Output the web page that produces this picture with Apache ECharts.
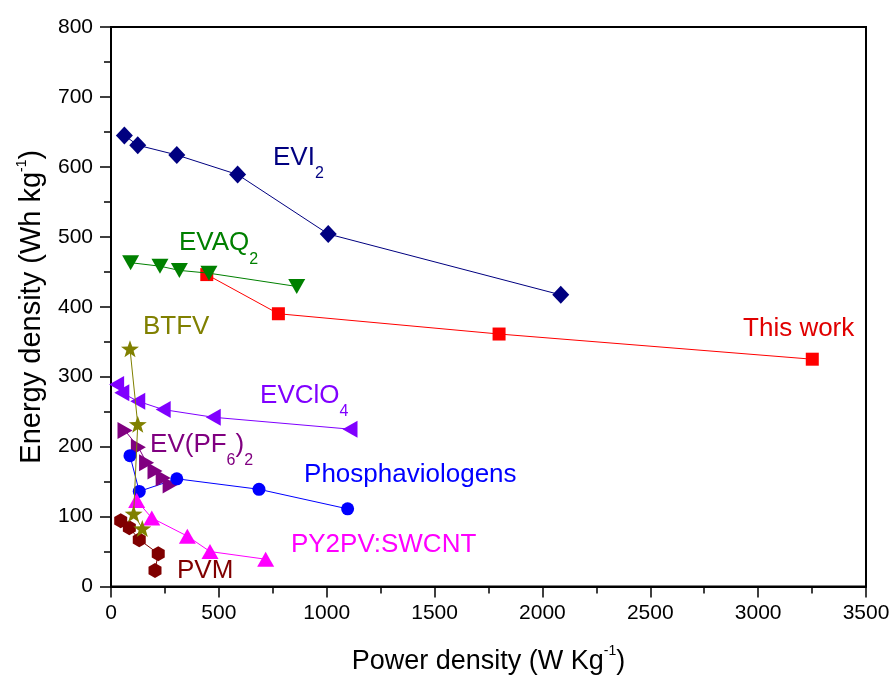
<!DOCTYPE html>
<html>
<head>
<meta charset="utf-8">
<script src="https://cdn.jsdelivr.net/npm/echarts@6/dist/echarts.min.js"></script>
<style>
  html, body { margin: 0; padding: 0; background: #ffffff; }
  #chart { width: 894px; height: 680px; }
</style>
</head>
<body>
<div id="chart"></div>
<script>
// Energy density vs power density for viologen-based electrodes (Ragone-type plot)

// Power density, W kg^-1
const evi2Power    = [62, 124, 305, 587, 1007, 2085];
const evaq2Power   = [91, 227, 317, 454, 861];
const thisPower    = [444, 776, 1799, 3251];
const btfvPower    = [88, 124, 105, 145];
const evclo4Power  = [26, 50, 124, 242, 474, 1108];
const evpf6Power   = [65, 127, 165, 204, 242, 274];
const phosPower    = [88, 131, 305, 686, 1097];
const py2pvPower   = [119, 189, 354, 459, 717];
const pvmPower     = [45, 85, 131, 219, 204];

// Energy density, Wh kg^-1
const evi2Energy   = [645, 631, 617, 589, 504, 417];
const evaq2Energy  = [463, 458, 452, 448, 429];
const thisEnergy   = [446, 390, 361, 325];
const btfvEnergy   = [340, 232, 104, 83];
const evclo4Energy = [289, 277, 265, 253, 242, 225];
const evpf6Energy  = [223, 199, 177, 165, 155, 145];
const phosEnergy   = [187, 136, 154, 139, 111];
const py2pvEnergy  = [123, 98, 72, 50, 39];
const pvmEnergy    = [94, 84, 67, 47, 23];

// Axis ticks
const powerTicks  = [0, 500, 1000, 1500, 2000, 2500, 3000, 3500];
const energyTicks = [0, 100, 200, 300, 400, 500, 600, 700, 800];

const FONT = 'Arial, "Liberation Sans", Helvetica, sans-serif';

const STAR = 'path://M0,-10 L2.35,-3.24 L9.51,-3.09 L3.80,1.24 L5.88,8.09 L0,4 L-5.88,8.09 L-3.80,1.24 L-9.51,-3.09 L-2.35,-3.24 Z';
const HEX  = 'path://M0,-10 L8.66,-5 L8.66,5 L0,10 L-8.66,5 L-8.66,-5 Z';

function pairs(xs, ys) {
  return xs.map((x, i) => [x, ys[i]]);
}

// One connected line + markers, with its name written next to it
function makeSeries(name, xs, ys, opt) {
  const tc = opt.labelColor || opt.color;
  return {
    name: name,
    type: 'line',
    data: pairs(xs, ys),
    symbol: opt.symbol,
    symbolSize: opt.size,
    symbolRotate: opt.rotate || 0,
    symbolKeepAspect: true,
    showSymbol: true,
    lineStyle: { color: opt.color, width: 1 },
    itemStyle: { color: opt.color, borderWidth: 0 },
    emphasis: { disabled: true },
    z: opt.z || 2,
    markPoint: {
      silent: true,
      symbol: 'circle',
      symbolSize: 0,
      itemStyle: { color: 'rgba(0,0,0,0)' },
      label: {
        show: true,
        position: [0, 0],
        align: 'left',
        verticalAlign: 'middle',
        color: tc,
        formatter: opt.text,
        rich: {
          m: { fontFamily: FONT, fontSize: 26, lineHeight: 48, color: tc },
          s: { fontFamily: FONT, fontSize: 16, lineHeight: 16, verticalAlign: 'bottom', color: tc }
        }
      },
      data: [{ coord: opt.at }]
    }
  };
}

const chart = echarts.init(document.getElementById('chart'), null, { renderer: 'canvas' });

const axisCommon = {
  axisLine: { show: true, onZero: false, lineStyle: { color: '#000', width: 2 } },
  axisTick: { show: true, inside: false, length: 11, lineStyle: { color: '#000', width: 1.5 } },
  minorTick: { show: true, splitNumber: 2, length: 7, lineStyle: { color: '#000', width: 1.5 } },
  splitLine: { show: false },
  minorSplitLine: { show: false }
};

chart.setOption({
  animation: false,
  backgroundColor: '#ffffff',
  grid: {
    left: 111, right: 28, top: 27, bottom: 93,
    show: true, borderColor: '#000', borderWidth: 2, backgroundColor: 'transparent'
  },
  xAxis: Object.assign({
    type: 'value',
    min: powerTicks[0],
    max: powerTicks[powerTicks.length - 1],
    interval: powerTicks[1] - powerTicks[0],
    name: '{t|Power density (W Kg}{p|-1}{t|)}',
    nameLocation: 'middle',
    nameGap: 58,
    nameTextStyle: {
      rich: {
        t: { fontFamily: FONT, fontSize: 27, lineHeight: 34, color: '#000' },
        p: { fontFamily: FONT, fontSize: 14, lineHeight: 14, verticalAlign: 'top', color: '#000' }
      }
    },
    axisLabel: { fontFamily: FONT, fontSize: 21, color: '#000', margin: 16, formatter: v => String(v) }
  }, axisCommon),
  yAxis: Object.assign({
    type: 'value',
    min: energyTicks[0],
    max: energyTicks[energyTicks.length - 1],
    interval: energyTicks[1] - energyTicks[0],
    name: '{t|Energy density (Wh kg}{p|-1}{t|)}',
    nameLocation: 'middle',
    nameRotate: 90,
    nameGap: 62,
    nameTextStyle: {
      rich: {
        t: { fontFamily: FONT, fontSize: 29, lineHeight: 34, color: '#000' },
        p: { fontFamily: FONT, fontSize: 14, lineHeight: 14, verticalAlign: 'top', color: '#000' }
      }
    },
    axisLabel: { fontFamily: FONT, fontSize: 21, color: '#000', margin: 18, formatter: v => String(v) }
  }, axisCommon),
  series: [
    makeSeries('EVI2', evi2Power, evi2Energy, {
      color: '#000080', symbol: 'diamond', size: [17, 18],
      text: '{m|EVI}{s|2}', at: [751, 613]
    }),
    makeSeries('This work', thisPower, thisEnergy, {
      color: '#ff0000', labelColor: '#e00000', symbol: 'rect', size: 13,
      text: '{m|This work}', at: [2930, 368]
    }),
    makeSeries('EVAQ2', evaq2Power, evaq2Energy, {
      color: '#008000', symbol: 'triangle', size: [17, 15], rotate: 180, z: 3,
      text: '{m|EVAQ}{s|2}', at: [315, 491]
    }),
    makeSeries('BTFV', btfvPower, btfvEnergy, {
      color: '#808000', symbol: STAR, size: 18, z: 4,
      text: '{m|BTFV}', at: [148, 371]
    }),
    makeSeries('EVClO4', evclo4Power, evclo4Energy, {
      color: '#8000ff', symbol: 'triangle', size: [17, 15], rotate: 90,
      text: '{m|EVClO}{s|4}', at: [691, 273]
    }),
    makeSeries('EV(PF6)2', evpf6Power, evpf6Energy, {
      color: '#800080', symbol: 'triangle', size: [17, 15], rotate: -90,
      text: '{m|EV(PF}{s|6}{m|)}{s|2}', at: [181, 203]
    }),
    makeSeries('Phosphaviologens', phosPower, phosEnergy, {
      color: '#0000ff', symbol: 'circle', size: 13,
      text: '{m|Phosphaviologens}', at: [895, 160]
    }),
    makeSeries('PY2PV:SWCNT', py2pvPower, py2pvEnergy, {
      color: '#ff00ff', symbol: 'triangle', size: [17, 15],
      text: '{m|PY2PV:SWCNT}', at: [834, 60]
    }),
    makeSeries('PVM', pvmPower, pvmEnergy, {
      color: '#800000', symbol: HEX, size: 15,
      text: '{m|PVM}', at: [306, 22]
    })
  ]
});
</script>
</body>
</html>
